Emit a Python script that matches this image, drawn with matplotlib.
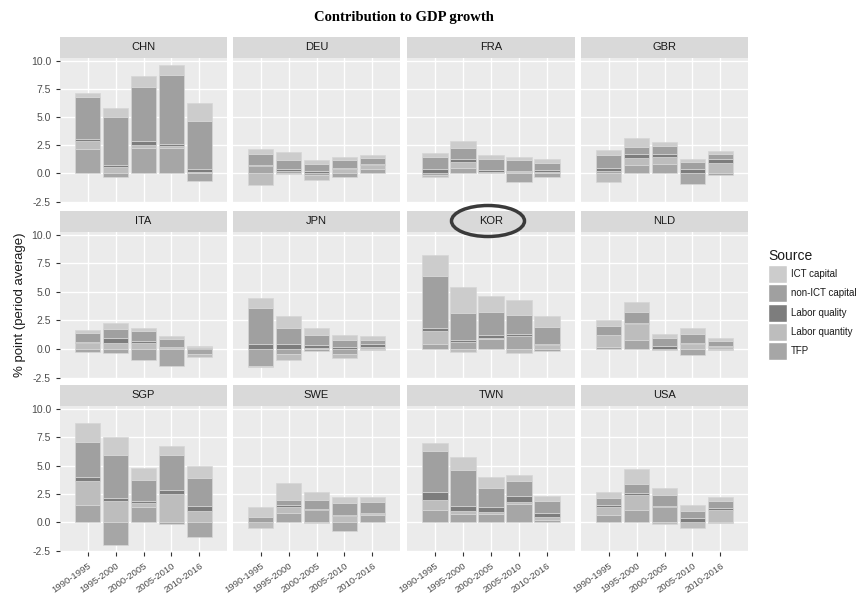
import numpy as np
import matplotlib
matplotlib.use("Agg")
import matplotlib.pyplot as plt
from matplotlib.patches import Ellipse, Rectangle

countries = ["CHN", "DEU", "FRA", "GBR", "ITA", "JPN", "KOR", "NLD", "SGP", "SWE", "TWN", "USA"]
periods = ["1990-1995", "1995-2000", "2000-2005", "2005-2010", "2010-2016"]
sources = ["ICT capital", "non-ICT capital", "Labor quality", "Labor quantity", "TFP"]

# contributions per country (rows) and period (cols)
tfp = [
    [2.2, -0.35, 2.25, 2.25, -0.65],
    [0.65, 0.25, -0.1, -0.35, 0.35],
    [-0.1, 0.5, 0.15, -0.75, -0.3],
    [0.2, 0.75, 0.8, -0.9, -0.1],
    [-0.3, -0.35, -0.95, -1.45, -0.45],
    [-1.45, -0.4, -0.2, -0.4, -0.05],
    [0.45, 0.6, 0.85, 1.15, -0.15],
    [0.2, 0.8, -0.1, -0.55, -0.05],
    [1.5, -2.0, 1.35, -0.2, -1.3],
    [0.0, 0.85, 1.05, -0.75, 0.6],
    [1.05, 0.7, 0.7, 1.6, 0.15],
    [0.6, 1.1, 1.3, 0.0, -0.1],
]
lab_qty = [
    [0.7, 0.6, 0.3, 0.15, 0.15],
    [-1.0, -0.05, -0.5, 0.35, 0.4],
    [-0.25, 0.5, 0.0, 0.1, 0.15],
    [-0.75, 0.6, 0.7, 0.05, 0.95],
    [0.55, 0.55, 0.5, 0.05, -0.25],
    [-0.15, -0.6, 0.05, -0.4, 0.2],
    [1.15, -0.25, 0.15, -0.35, 0.35],
    [1.0, 1.35, 0.0, 0.45, 0.2],
    [2.1, 1.9, 0.35, 2.5, 1.0],
    [-0.55, 0.45, -0.1, 0.55, 0.1],
    [0.95, 0.3, 0.2, 0.15, 0.3],
    [0.75, 1.3, -0.15, -0.55, 1.05],
]
lab_qual = [
    [0.15, 0.15, 0.35, 0.2, 0.2],
    [0.1, 0.1, 0.2, 0.15, 0.1],
    [0.35, 0.3, 0.15, 0.15, 0.15],
    [0.3, 0.35, 0.25, 0.3, 0.3],
    [0.05, 0.4, 0.2, 0.15, 0.1],
    [0.4, 0.4, 0.3, 0.2, 0.25],
    [0.2, 0.15, 0.2, 0.15, 0.05],
    [0.05, 0.1, 0.25, 0.1, 0.1],
    [0.35, 0.25, 0.2, 0.3, 0.4],
    [0.05, 0.2, 0.1, 0.1, 0.15],
    [0.7, 0.45, 0.45, 0.6, 0.35],
    [0.2, 0.15, 0.15, 0.35, 0.2],
]
non_ict = [
    [3.75, 4.25, 4.75, 6.15, 4.3],
    [0.95, 0.85, 0.65, 0.65, 0.55],
    [1.1, 0.95, 0.95, 0.9, 0.65],
    [1.1, 0.6, 0.65, 0.65, 0.45],
    [0.8, 0.8, 0.9, 0.7, 0.05],
    [3.2, 1.4, 0.9, 0.55, 0.35],
    [4.6, 2.4, 2.0, 1.7, 1.55],
    [0.75, 1.0, 0.75, 0.75, 0.4],
    [3.1, 3.75, 1.85, 3.15, 2.5],
    [0.45, 0.5, 0.85, 1.0, 0.9],
    [3.6, 3.15, 1.7, 1.3, 1.05],
    [0.55, 0.85, 0.95, 0.65, 0.6],
]
ict = [
    [0.3, 0.85, 1.0, 0.85, 1.6],
    [0.5, 0.7, 0.3, 0.35, 0.2],
    [0.4, 0.6, 0.35, 0.35, 0.3],
    [0.5, 0.8, 0.4, 0.25, 0.3],
    [0.3, 0.55, 0.25, 0.2, 0.08],
    [0.9, 1.05, 0.6, 0.45, 0.3],
    [1.85, 2.3, 1.4, 1.3, 0.95],
    [0.5, 0.85, 0.35, 0.5, 0.3],
    [1.7, 1.65, 1.0, 0.75, 1.05],
    [0.8, 1.5, 0.7, 0.6, 0.5],
    [0.65, 1.15, 0.9, 0.55, 0.5],
    [0.55, 1.3, 0.6, 0.5, 0.4],
]

colors = {
    "ICT capital": "#cccccc",
    "non-ICT capital": "#a0a0a0",
    "Labor quality": "#7d7d7d",
    "Labor quantity": "#bdbdbd",
    "TFP": "#a6a6a6",
}
# bottom-up stacking order (ggplot puts first level on top)
stack = [("TFP", tfp), ("Labor quantity", lab_qty), ("Labor quality", lab_qual),
         ("non-ICT capital", non_ict), ("ICT capital", ict)]

W, H = 860, 594
fig = plt.figure(figsize=(W / 100, H / 100), dpi=100)
plt.rcParams['font.family'] = ['Liberation Sans', 'DejaVu Sans']

col_px = [(60, 227), (233, 400), (407, 575), (581, 748)]
row_px = [(58, 203), (232, 379), (406, 552)]
strip_h = 21
tick_col = "#4d4d4d"

x = np.arange(1, 6)
for i, c in enumerate(countries):
    r, k = divmod(i, 4)
    x0, x1 = col_px[k]
    y0, y1 = row_px[r]
    ax = fig.add_axes([x0 / W, 1 - y1 / H, (x1 - x0) / W, (y1 - y0) / H])
    ax.set_facecolor("#ebebeb")
    for s in ax.spines.values():
        s.set_visible(False)
    ax.set_xlim(0, 6)
    ax.set_ylim(-2.63, 10.25)
    ax.set_yticks([-2.5, 0, 2.5, 5, 7.5, 10])
    ax.set_xticks(x)
    ax.grid(True, color="white", linewidth=1.0)
    ax.set_axisbelow(True)

    pos = np.zeros(5)
    neg = np.zeros(5)
    for name, vals in stack:
        v = np.array(vals[i])
        bottom = np.where(v >= 0, pos, neg)
        ax.bar(x, v, width=0.9, bottom=bottom, color=colors[name],
               edgecolor="#d6d6d6", linewidth=0.5)
        pos = pos + np.clip(v, 0, None)
        neg = neg + np.clip(v, None, 0)

    ax.tick_params(axis="both", colors="#333333", labelcolor=tick_col,
                   labelsize=7.5, length=3, width=0.8)
    if k == 0:
        ax.set_yticklabels(["-2.5", "0.0", "2.5", "5.0", "7.5", "10.0"])
    else:
        ax.tick_params(axis="y", left=False, labelleft=False)
    if r == 2:
        ax.set_xticklabels(periods, rotation=35, ha="right", rotation_mode="anchor",
                           fontsize=6.8)
    else:
        ax.tick_params(axis="x", bottom=False, labelbottom=False)

    sax = fig.add_axes([x0 / W, 1 - y0 / H, (x1 - x0) / W, strip_h / H])
    sax.set_facecolor("#d9d9d9")
    sax.set_xticks([])
    sax.set_yticks([])
    for s in sax.spines.values():
        s.set_visible(False)
    sax.text(0.5, 0.5, c, ha="center", va="center", fontsize=8, color="#1a1a1a",
             transform=sax.transAxes)

fig.text(404 / W, 1 - 18 / H, "Contribution to GDP growth", ha="center", va="center",
         fontsize=10.5, fontweight="bold", family=["Liberation Serif", "DejaVu Serif"])
fig.text(20 / W, 1 - 305 / H, "% point (period average)", rotation=90,
         ha="center", va="center", fontsize=9.5, color="#1a1a1a")

# legend
fig.text(768 / W, 1 - 256 / H, "Source", ha="left", va="center", fontsize=10, color="#1a1a1a")
for j, name in enumerate(sources):
    cy = 274 + j * 19.3
    fig.add_artist(Rectangle((768 / W, 1 - (cy + 9) / H), 19 / W, 18 / H,
                             transform=fig.transFigure, facecolor=colors[name],
                             edgecolor="white", linewidth=1))
    fig.text(791 / W, 1 - cy / H, name, ha="left", va="center", fontsize=7,
             color="#1a1a1a")

# highlight around KOR strip
fig.add_artist(Ellipse((488 / W, 1 - 221 / H), 73 / W, 31 / H, transform=fig.transFigure,
                       fill=False, edgecolor="#3a3a3a", linewidth=2.5))

fig.savefig("out.png", dpi=100)
